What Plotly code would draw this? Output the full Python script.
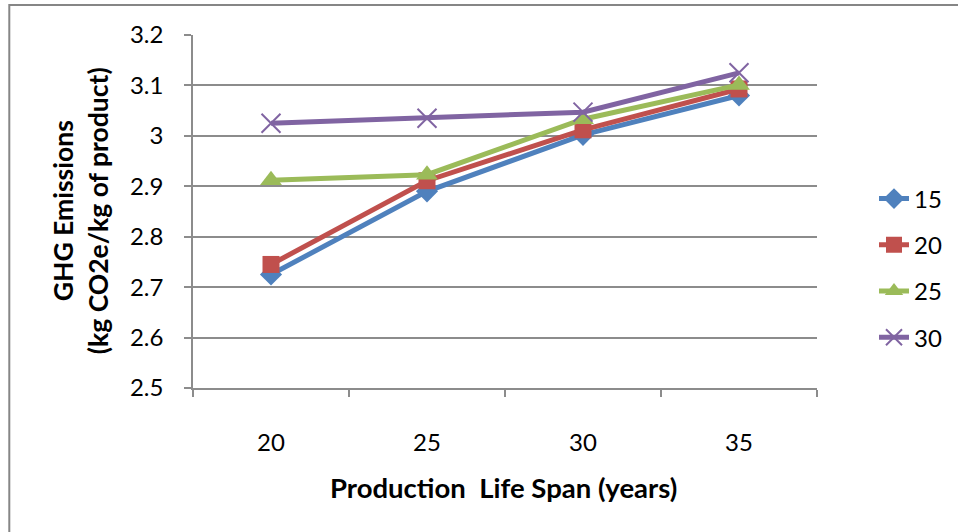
import plotly.graph_objects as go

# Production life span categories (x axis)
life_span = ["20", "25", "30", "35"]

# GHG emissions (kg CO2e / kg of product) for each series
series_names = ["15", "20", "25", "30"]
ghg_15 = [2.725, 2.890, 3.002, 3.080]
ghg_20 = [2.745, 2.911, 3.012, 3.093]
ghg_25 = [2.912, 2.923, 3.033, 3.101]
ghg_30 = [3.025, 3.035, 3.047, 3.125]

y_ticks = [2.5, 2.6, 2.7, 2.8, 2.9, 3.0, 3.1, 3.2]
y_tick_text = ["2.5", "2.6", "2.7", "2.8", "2.9", "3", "3.1", "3.2"]

colors = ["#4F81BD", "#C0504D", "#9BBB59", "#8064A2"]
symbols = ["diamond", "square", "triangle-up", "x-thin-open"]
sizes = [17, 17, 19, 19]

FONT = "Lato"
GRID = "#8c8c8c"

fig = go.Figure()
for i, (name, vals) in enumerate(zip(series_names, [ghg_15, ghg_20, ghg_25, ghg_30])):
    marker = dict(symbol=symbols[i], size=sizes[i], color=colors[i])
    if symbols[i] == "x-thin-open":
        marker["line"] = dict(color=colors[i], width=2)
    fig.add_trace(go.Scatter(
        x=life_span, y=vals, name=name, mode="lines+markers",
        line=dict(color=colors[i], width=5),
        marker=marker, legendgroup=name,
    ))

# plot area: x 193..818, y 35..388 in a 958x532 canvas
L, R, T, B = 193, 140, 35, 144
W = 958 - L - R
H = 532 - T - B

fig.update_layout(
    width=958, height=532,
    margin=dict(l=L, r=R, t=T, b=B, pad=0),
    paper_bgcolor="white", plot_bgcolor="white",
    font=dict(family=FONT, size=23, color="black"),
    showlegend=True,
    legend=dict(
        x=(874 - L) / W, y=(388 - 268) / H, xanchor="left", yanchor="middle",
        font=dict(family=FONT, size=24, color="black"),
        tracegroupgap=12, bgcolor="rgba(0,0,0,0)", itemwidth=30,
    ),
    xaxis=dict(
        type="category", range=[-0.5, 3.5], showgrid=False,
        showline=True, linecolor=GRID, linewidth=1.5,
        ticks="outside", tickson="boundaries", ticklen=7, tickwidth=1.5, tickcolor=GRID,
        tickfont=dict(family=FONT, size=24), ticklabelstandoff=32,
    ),
    yaxis=dict(
        range=[2.5, 3.2], tickvals=y_ticks, ticktext=y_tick_text,
        showgrid=True, gridcolor=GRID, gridwidth=1.5,
        showline=True, linecolor=GRID, linewidth=1.5, zeroline=False,
        ticks="outside", ticklen=7, tickwidth=1.5, tickcolor=GRID,
        tickfont=dict(family=FONT, size=24), ticklabelstandoff=16,
    ),
    annotations=[
        dict(text="<b>Production  Life Span (years)</b>", xref="paper", yref="paper",
             x=(504 - L) / W, y=(388 - 487) / H, xanchor="center", yanchor="middle",
             showarrow=False, font=dict(family=FONT, size=27.5)),
        dict(text="<b>GHG Emissions<br>(kg CO2e/kg of product)</b>", xref="paper", yref="paper",
             x=(80 - L) / W, y=(388 - 211) / H, xanchor="center", yanchor="middle", textangle=-90,
             showarrow=False, font=dict(family=FONT, size=26.5)),
    ],
    shapes=[
        # chart frame
        dict(type="rect", xref="paper", yref="paper",
             x0=(9 - L) / W, y0=-1.0, x1=2.0, y1=1 + (T - 5) / H,
             line=dict(color="#868686", width=2), fillcolor="rgba(0,0,0,0)", layer="below"),
    ],
)

fig.write_html("out.html")
